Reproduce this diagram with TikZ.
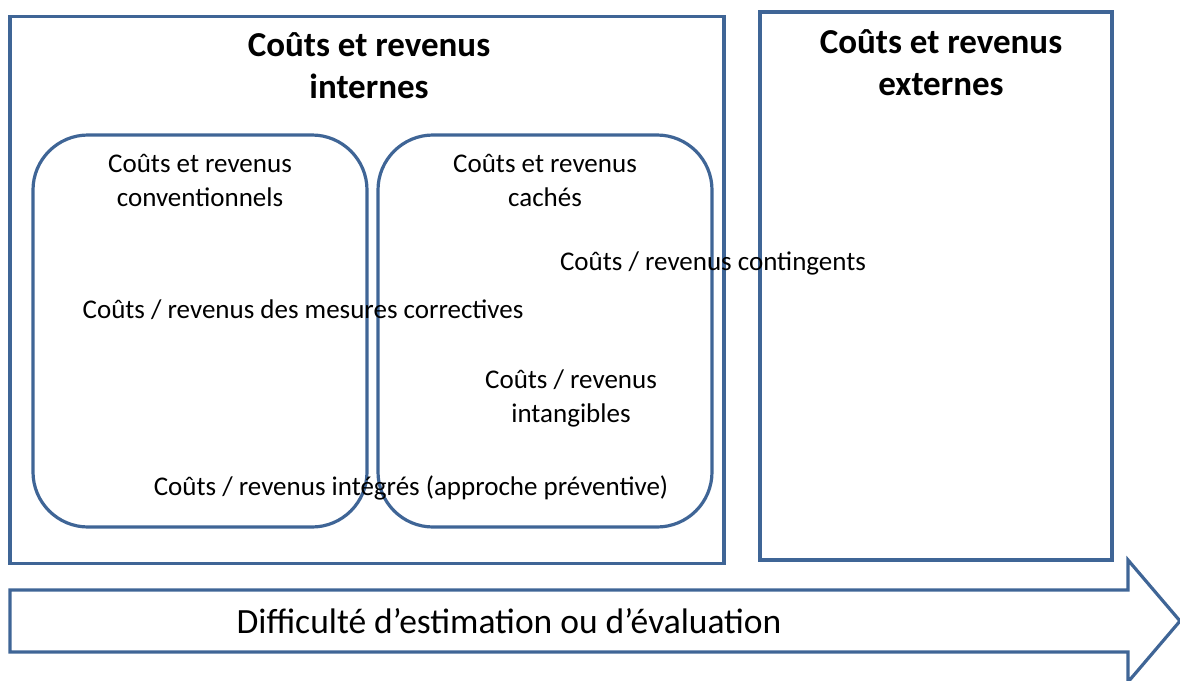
\documentclass[tikz,border=0pt]{standalone}
\usepackage{fontspec}
\setmainfont{Carlito}
\usetikzlibrary{positioning}
\definecolor{bline}{HTML}{3F6596}
\tikzset{
  boxline/.style={draw=bline, line width=3.2pt},
  sqbox/.style={boxline, rectangle, inner sep=0pt},
  rndbox/.style={boxline, rectangle, rounded corners=55pt, inner sep=0pt},
  titletxt/.style={font=\fontsize{35}{42}\selectfont\bfseries, align=center, inner sep=0pt},
  bodytxt/.style={font=\fontsize{27}{34}\selectfont, align=center, inner sep=0pt, text=black},
  arrowtxt/.style={font=\fontsize{35.5}{40}\selectfont, inner sep=0pt},
}
\begin{document}
\begin{tikzpicture}[x=1pt,y=-1pt]
\useasboundingbox (0,0) rectangle (1180,680);
% boxes
\node[sqbox, minimum width=714pt, minimum height=547pt] (intern) at (367,290) {};
\node[sqbox, minimum width=352pt, minimum height=548pt] (extern) at (936,286) {};
\node[rndbox, minimum width=334pt, minimum height=392pt] (conv) at (200,331) {};
\node[rndbox, minimum width=334pt, minimum height=392pt] (cache) at (545,331) {};
% arrow
\draw[boxline, line join=miter] (10,590) -- (1128,590) -- (1128,560) -- (1180,621) -- (1128,682) -- (1128,652) -- (10,652) -- cycle;
\node[arrowtxt] (diff) at (509,621) {Difficulté d’estimation ou d’évaluation};
% titles
\node[titletxt] (tint) at (369,66) {Coûts et revenus\\internes};
\node[titletxt] (text) at (941,63) {Coûts et revenus\\externes};
% inner texts
\node[bodytxt] (tconv) at (200,180) {Coûts et revenus\\conventionnels};
\node[bodytxt] (tcache) at (545,180) {Coûts et revenus\\cachés};
\node[bodytxt] (tcont) at (713,263) {Coûts / revenus contingents};
\node[bodytxt] (tcorr) at (303,310) {Coûts / revenus des mesures correctives};
\node[bodytxt] (tint2) at (571,398) {Coûts / revenus\\intangibles};
\node[bodytxt] (tinteg) at (411,488) {Coûts / revenus intégrés (approche préventive)};
\end{tikzpicture}
\end{document}
